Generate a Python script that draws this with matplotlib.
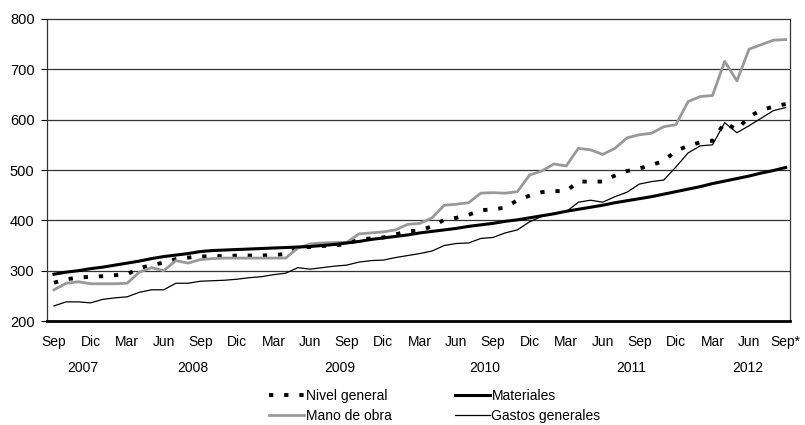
import numpy as np
import matplotlib
matplotlib.use("Agg")
import matplotlib.pyplot as plt
import matplotlib.transforms as mtransforms

plt.rcParams['font.family'] = ['Liberation Sans', 'DejaVu Sans']

# meses desde Sep 2007 hasta Sep 2012
meses = np.arange(61)

nivel_general = [276, 283, 286, 288, 289, 291, 293, 305, 311, 316,
                 323, 326, 328, 329, 329, 330, 330, 330, 331, 333,
                 346, 347, 349, 350, 353, 362, 364, 366, 372, 378,
                 380, 388, 401, 405, 411, 420, 422, 425, 440, 449,
                 456, 458, 458, 477, 477, 477, 489, 498, 503, 510,
                 518, 538, 548, 555, 558, 594, 580, 606, 619, 626, 631]

materiales = [293, 297, 300, 304, 307, 311, 315, 319, 324, 328,
              331, 334, 338, 340, 341, 342, 343, 344, 345, 346,
              347, 348, 350, 352, 355, 358, 362, 365, 368, 371,
              375, 378, 381, 384, 388, 391, 394, 398, 401, 405,
              409, 413, 418, 422, 426, 430, 435, 439, 443, 447,
              452, 457, 462, 467, 473, 478, 483, 488, 494, 499, 505]

mano_obra = [262, 275, 278, 274, 274, 274, 275, 297, 306, 300,
             320, 315, 322, 324, 325, 325, 325, 325, 325, 325,
             345, 353, 355, 356, 356, 373, 375, 377, 381, 392,
             394, 405, 430, 432, 435, 454, 455, 454, 457, 490,
             498, 512, 508, 543, 540, 531, 543, 564, 570, 573,
             586, 590, 636, 646, 648, 716, 677, 740, 749, 758, 759]

gastos_generales = [230, 238, 238, 236, 243, 246, 248, 257, 262, 262,
                    275, 275, 279, 280, 281, 283, 286, 288, 292, 295,
                    306, 303, 306, 309, 311, 317, 320, 321, 326, 330,
                    334, 339, 350, 354, 355, 364, 366, 375, 381, 397,
                    408, 414, 417, 436, 440, 436, 447, 456, 472, 477,
                    480, 506, 534, 548, 550, 594, 574, 588, 603, 618, 624]

etiquetas_x = ["Sep", "Dic", "Mar", "Jun"] * 5 + ["Sep*"]
anios = ["2007", "2008", "2009", "2010", "2011", "2012"]
pos_anios = [2.4, 11.4, 23.4, 35.3, 47.3, 56.9]

fig = plt.figure(figsize=(8.05, 4.25), dpi=100)
ax = fig.add_axes([0.0584, 0.2447, 0.9226, 0.7106])

ax.plot(meses, nivel_general, color='black', lw=2.8, linestyle=(0, (1.1, 2.8)),
        label='Nivel general')
ax.plot(meses, mano_obra, color='#999999', lw=2.0, label='Mano de obra')
ax.plot(meses, materiales, color='black', lw=2.2, label='Materiales')
ax.plot(meses, gastos_generales, color='black', lw=0.9, label='Gastos generales')

ax.set_ylim(200, 800)
ax.set_xlim(-0.57, 60.33)
ax.set_yticks(range(200, 801, 100))
ax.set_xticks(range(0, 61, 3))
ax.set_xticklabels(etiquetas_x)
ax.tick_params(axis='x', length=0, pad=10, labelsize=10)
ax.tick_params(axis='y', length=4, width=0.8, pad=5, labelsize=10.5)

for v in range(300, 800, 100):
    ax.axhline(v, color='#333333', lw=0.9, zorder=0)

for s in ax.spines.values():
    s.set_color('#333333')
    s.set_linewidth(0.9)
ax.spines['bottom'].set_color('black')
ax.spines['bottom'].set_linewidth(2)

trans = mtransforms.blended_transform_factory(ax.transData, ax.transAxes)
for a, p in zip(anios, pos_anios):
    ax.text(p, -0.155, a, transform=trans, ha='center', va='center', fontsize=10)

fig.legend(loc='center', bbox_to_anchor=(435 / 805, 1 - 406 / 425), ncol=2,
           frameon=False, fontsize=10, handlelength=2.5, handletextpad=0.1,
           columnspacing=4.6, labelspacing=0.4)

fig.savefig("out.png", dpi=100)
